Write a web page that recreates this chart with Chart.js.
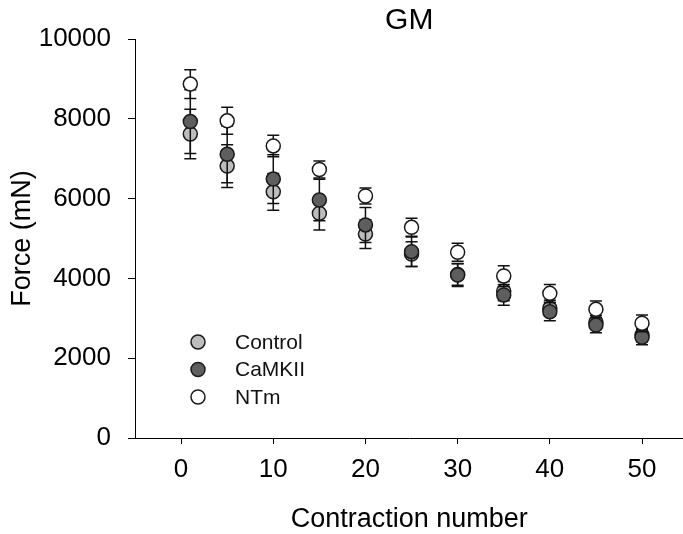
<!DOCTYPE html>
<html>
<head>
<meta charset="utf-8">
<script src="https://cdn.jsdelivr.net/npm/chart.js@4/dist/chart.umd.min.js"></script>
<style>
  html, body { margin: 0; padding: 0; background: #fff; overflow: hidden; }
</style>
</head>
<body>
<!-- the original figure is cut at the right edge, so the canvas runs a little past the window -->
<canvas id="myChart" width="692" height="534"></canvas>
<script>
// values (mean and error per contraction)
var contractions = [1, 5, 10, 15, 20, 25, 30, 35, 40, 45, 50];
var control    = [7620, 6815, 6170, 5630, 5110, 4610, 4100, 3680, 3250, 2900, 2580];
var controlErr = [620, 535, 460, 420, 360, 310, 270, 240, 200, 170, 170];
var camkii     = [7930, 7110, 6490, 5965, 5340, 4670, 4085, 3585, 3165, 2830, 2525];
var camkiiErr  = [800, 710, 610, 520, 440, 370, 290, 260, 225, 190, 190];
var ntm        = [8870, 7950, 7320, 6730, 6065, 5280, 4655, 4060, 3625, 3225, 2875];
var ntmErr     = [360, 340, 270, 215, 200, 225, 225, 260, 225, 210, 210];
var xTicks = [0, 10, 20, 30, 40, 50];
var yTicks = [0, 2000, 4000, 6000, 8000, 10000];

var FONT = "'Liberation Sans', Arial, sans-serif";

function points(ys) {
    return contractions.map(function (c, i) { return { x: c, y: ys[i] }; });
}

// error bars are drawn just before each dataset's markers
var errorBars = {
    id: 'errorBars',
    beforeDatasetDraw: function (chart, args) {
        var ds = chart.data.datasets[args.index];
        var xs = chart.scales.x, ys = chart.scales.y;
        var ctx = chart.ctx;
        ctx.save();
        ctx.strokeStyle = '#111';
        ctx.lineWidth = 1.5;
        ds.data.forEach(function (p, i) {
            var x = xs.getPixelForValue(p.x);
            var top = ys.getPixelForValue(p.y + ds.err[i]);
            var bot = ys.getPixelForValue(p.y - ds.err[i]);
            ctx.beginPath();
            ctx.moveTo(x, top); ctx.lineTo(x, bot);
            ctx.moveTo(x - 6, top); ctx.lineTo(x + 6, top);
            ctx.moveTo(x - 6, bot); ctx.lineTo(x + 6, bot);
            ctx.stroke();
        });
        ctx.restore();
    }
};

// legend sits inside the plot, lower left
var insideLegend = {
    id: 'insideLegend',
    afterDraw: function (chart) {
        var ctx = chart.ctx;
        var mx = chart.chartArea.left + 63, y0 = 342;
        ctx.save();
        ctx.font = '21px ' + FONT;
        ctx.textBaseline = 'middle';
        chart.data.datasets.forEach(function (ds, i) {
            var y = y0 + i * 27.5;
            ctx.beginPath();
            ctx.arc(mx, y, 7, 0, 2 * Math.PI);
            ctx.fillStyle = ds.backgroundColor;
            ctx.fill();
            ctx.lineWidth = 1.5;
            ctx.strokeStyle = ds.borderColor;
            ctx.stroke();
            ctx.fillStyle = '#111';
            ctx.fillText(ds.label, mx + 37, y + 1);
        });
        ctx.restore();
    }
};

function dataset(label, ys, errs, fill, order) {
    return {
        label: label,
        data: points(ys),
        err: errs,
        backgroundColor: fill,
        borderColor: '#1a1a1a',
        borderWidth: 1.5,
        pointRadius: 7,
        pointHoverRadius: 7,
        showLine: false,
        order: order
    };
}

var ctx = document.getElementById('myChart').getContext('2d');
var chart = new Chart(ctx, {
    type: 'scatter',
    data: {
        datasets: [
            dataset('Control', control, controlErr, '#bdbdbd', 3),
            dataset('CaMKII', camkii, camkiiErr, '#5e5e5e', 2),
            dataset('NTm', ntm, ntmErr, '#ffffff', 1)
        ]
    },
    plugins: [errorBars, insideLegend],
    options: {
        responsive: false,
        animation: false,
        devicePixelRatio: 1,
        layout: { padding: 0 },
        plugins: {
            legend: { display: false },
            tooltip: { enabled: false },
            title: {
                display: true,
                text: 'GM',
                fullSize: false,
                color: '#000',
                font: { family: FONT, size: 30, weight: 'normal' },
                padding: { top: 3, bottom: 0 }
            }
        },
        scales: {
            x: {
                type: 'linear',
                min: -5,
                max: 54.5,
                afterBuildTicks: function (s) { s.ticks = xTicks.map(function (v) { return { value: v }; }); },
                afterFit: function (s) { s.height = 96; s.paddingLeft = 0; s.paddingRight = 0; },
                grid: { drawOnChartArea: false, drawTicks: true, tickLength: 6, color: '#000', tickWidth: 1 },
                border: { display: true, color: '#000', width: 1 },
                ticks: { color: '#000', padding: 10, font: { family: FONT, size: 26 }, maxRotation: 0,
                         callback: function (v) { return String(v); } },
                title: {
                    display: true,
                    text: 'Contraction number',
                    color: '#000',
                    font: { family: FONT, size: 27 },
                    padding: { top: 0, bottom: -2 }
                }
            },
            y: {
                min: 0,
                max: 10000,
                afterBuildTicks: function (s) { s.ticks = yTicks.map(function (v) { return { value: v }; }); },
                afterFit: function (s) { s.width = 135; },
                grid: { drawOnChartArea: false, drawTicks: true, tickLength: 7, color: '#000', tickWidth: 1 },
                border: { display: true, color: '#000', width: 1 },
                ticks: { color: '#000', padding: 17, font: { family: FONT, size: 26 },
                         callback: function (v) { return String(v); } },
                title: {
                    display: true,
                    text: 'Force (mN)',
                    color: '#000',
                    font: { family: FONT, size: 27 },
                    padding: { top: 6, bottom: 0 }
                }
            }
        }
    }
});
</script>
</body>
</html>
